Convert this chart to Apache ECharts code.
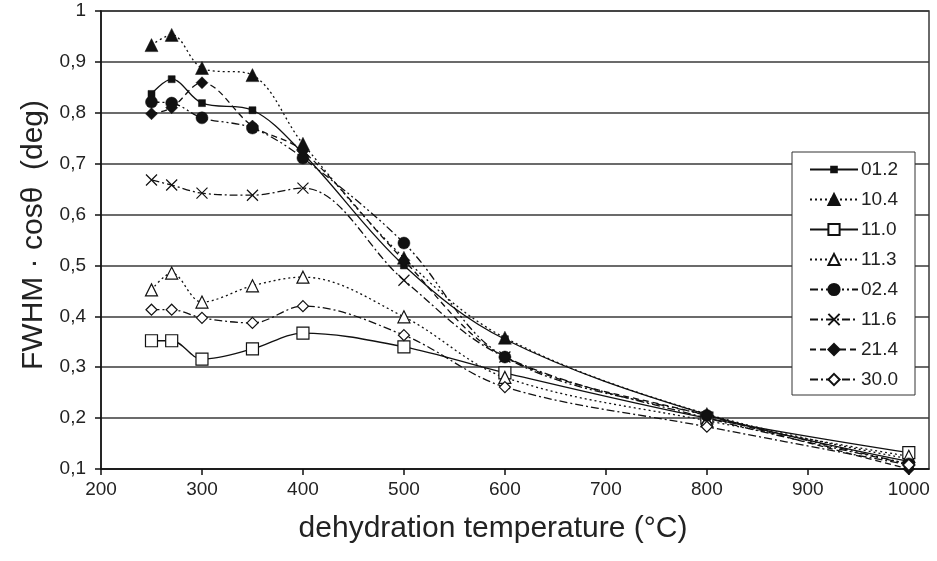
<!DOCTYPE html>
<html>
<head>
<meta charset="utf-8">
<script src="https://cdn.jsdelivr.net/npm/echarts@6/dist/echarts.min.js"></script>
<style>
html,body{margin:0;padding:0;background:#fff;}
#chart{width:937px;height:561px;}
</style>
</head>
<body>
<div id="chart"></div>
<script>
// ---- data ----
var temps = [250, 270, 300, 350, 400, 500, 600, 800, 1000];
var seriesNames = ['01.2', '10.4', '11.0', '11.3', '02.4', '11.6', '21.4', '30.0'];
var s01_2 = [0.837, 0.866, 0.819, 0.805, 0.720, 0.500, 0.355, 0.207, 0.115];
var s10_4 = [0.933, 0.953, 0.888, 0.874, 0.739, 0.515, 0.358, 0.208, 0.120];
var s11_0 = [0.352, 0.352, 0.316, 0.336, 0.367, 0.340, 0.289, 0.200, 0.132];
var s11_3 = [0.452, 0.485, 0.428, 0.460, 0.477, 0.399, 0.280, 0.195, 0.125];
var s02_4 = [0.821, 0.819, 0.790, 0.770, 0.711, 0.544, 0.320, 0.205, 0.110];
var s11_6 = [0.668, 0.658, 0.642, 0.638, 0.652, 0.471, 0.320, 0.200, 0.110];
var s21_4 = [0.798, 0.810, 0.859, 0.774, 0.725, 0.510, 0.320, 0.205, 0.100];
var s30_0 = [0.413, 0.413, 0.397, 0.387, 0.420, 0.363, 0.261, 0.183, 0.108];
var xTickValues = [200, 300, 400, 500, 600, 700, 800, 900, 1000];

var FONT = '"Liberation Sans", Arial, sans-serif';
var X_PATH = 'path://M0,0L10,10M10,0L0,10';

function pairs(arr) {
  return temps.map(function (t, i) { return [t, arr[i]]; });
}
function mk(name, arr, dash, symbol, size, filled) {
  return {
    name: name,
    type: 'line',
    data: pairs(arr),
    smooth: 0.35,
    symbol: symbol,
    symbolSize: size,
    lineStyle: { color: '#111', width: 1.3, type: dash },
    itemStyle: filled === 'x'
      ? { color: 'rgba(0,0,0,0)', borderColor: '#111', borderWidth: 1.2 }
      : (filled ? { color: '#111', borderColor: '#111', borderWidth: 0.5 }
                : { color: '#fff', borderColor: '#111', borderWidth: 1.2 }),
    emphasis: { disabled: true },
    z: 3
  };
}

var legendBase = {
  orient: 'vertical',
  left: 809,
  padding: 0,
  itemWidth: 48, itemGap: 11,
  selectedMode: false,
  z: 20,
  textStyle: { fontFamily: FONT, fontSize: 19, color: '#222', lineHeight: 18, padding: [0, 0, 0, -2] }
};

var chart = echarts.init(document.getElementById('chart'), null, { renderer: 'canvas' });
chart.setOption({
  animation: false,
  backgroundColor: '#fff',
  textStyle: { fontFamily: FONT },
  grid: {
    left: 101, top: 11, width: 828, height: 458,
    show: true, borderColor: '#3a3a3a', borderWidth: 1.5, backgroundColor: 'transparent'
  },
  graphic: [{
    type: 'rect',
    z: 10,
    shape: { x: 792, y: 152, width: 123, height: 243 },
    style: { fill: '#fff', stroke: '#333', lineWidth: 1 }
  }],
  legend: [
    Object.assign({}, legendBase, { top: 160, itemHeight: 7, data: ['01.2'] }),
    Object.assign({}, legendBase, { top: 190, itemHeight: 14, data: seriesNames.slice(1) })
  ],
  xAxis: {
    type: 'value',
    min: 200, max: 1020, interval: 100,
    name: 'dehydration temperature (°C)',
    nameLocation: 'middle', nameGap: 45,
    nameTextStyle: { fontFamily: FONT, fontSize: 30, color: '#222', padding: [0, 44, 0, 0] },
    axisLine: { show: true, onZero: false, lineStyle: { color: '#111', width: 1.5 } },
    axisTick: { show: true, length: 6, inside: false, customValues: xTickValues, lineStyle: { color: '#111', width: 1.5 } },
    axisLabel: {
      customValues: xTickValues,
      fontFamily: FONT, fontSize: 19, color: '#222', margin: 11,
      formatter: function (v) { return (v % 100 === 0 && v <= 1000) ? String(v) : ''; }
    },
    splitLine: { show: false }
  },
  yAxis: {
    type: 'value',
    min: 0.1, max: 1, interval: 0.1,
    name: 'FWHM · cosθ  (deg)',
    nameLocation: 'middle', nameGap: 52,
    nameTextStyle: { fontFamily: FONT, fontSize: 30, color: '#222', padding: [0, 0, 0, 10] },
    axisLine: { show: true, onZero: false, lineStyle: { color: '#111', width: 1.5 } },
    axisTick: { show: true, length: 6, lineStyle: { color: '#111', width: 1.5 } },
    axisLabel: {
      fontFamily: FONT, fontSize: 19, color: '#222', margin: 15,
      formatter: function (v) {
        var r = Math.round(v * 10) / 10;
        if (r === 1) return '1';
        return r.toFixed(1).replace('.', ',');
      }
    },
    splitLine: { show: true, lineStyle: { color: '#3a3a3a', width: 1.5 } }
  },
  series: [
    mk('01.2', s01_2, 'solid', 'rect', 7, true),
    mk('10.4', s10_4, [2, 3], 'triangle', 13, true),
    mk('11.0', s11_0, 'solid', 'rect', 12, false),
    mk('11.3', s11_3, [2, 3], 'triangle', 12, false),
    mk('02.4', s02_4, [8, 3, 2, 3, 2, 3], 'circle', 12, true),
    mk('11.6', s11_6, [8, 3, 2, 3], X_PATH, 11, 'x'),
    mk('21.4', s21_4, [6, 4], 'diamond', 12, true),
    mk('30.0', s30_0, [8, 3, 2, 3], 'diamond', 11, false)
  ]
});
</script>
</body>
</html>
